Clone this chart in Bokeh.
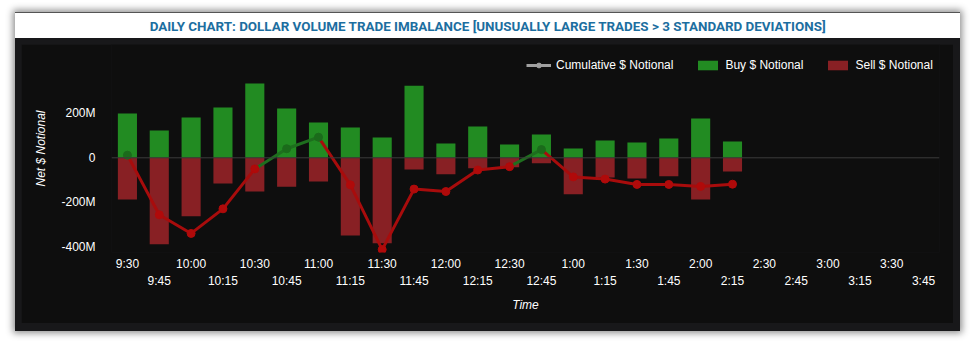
from bokeh.plotting import figure
from bokeh.models import (Range1d, LinearAxis, FixedTicker, Span, Legend, LegendItem,
                          ColumnDataSource)
from bokeh.layouts import column
from bokeh.embed import file_html
from bokeh.resources import INLINE
from bokeh.core.properties import value

# ---------------- data (values in millions of dollars) ----------------
times = ["9:30", "9:45", "10:00", "10:15", "10:30", "10:45", "11:00", "11:15", "11:30",
         "11:45", "12:00", "12:15", "12:30", "12:45", "1:00", "1:15", "1:30", "1:45",
         "2:00", "2:15", "2:30", "2:45", "3:00", "3:15", "3:30", "3:45"]
buy = [200, 123, 182, 227, 335, 222, 159, 137, 92, 325, 65, 141, 60, 105, 42, 78, 69,
       87, 177, 74]
sell = [-188, -390, -263, -116, -152, -130, -107, -350, -385, -53, -74, -47, -42, -24,
        -164, -89, -93, -83, -188, -62]
cumulative = [12, -257, -341, -230, -50, 41, 93, -122, -414, -141, -152, -55, -40, 37,
              -86, -96, -120, -120, -129, -119]
y_ticks = [-400, -200, 0, 200]
y_tick_labels = ["-400M", "-200M", "0", "200M"]
title_text = "DAILY CHART: DOLLAR VOLUME TRADE IMBALANCE [UNUSUALLY LARGE TRADES > 3 STANDARD DEVIATIONS]"

BUY_C = "#228B22"
SELL_C = "#882024"
LINE_RED = "#A80C0C"
LINE_GREEN = "#1E6E1E"
DOT_RED = "#B00A0A"
DOT_GREEN = "#1B6B1B"
FONT = "Liberation Sans"

idx = list(range(len(buy)))

# ---------------- title strip ----------------
t = figure(width=945, height=25, x_range=Range1d(0, 1), y_range=Range1d(0, 1),
           toolbar_location=None, output_backend="svg", min_border=0,
           x_axis_type=None, y_axis_type=None)
t.grid.visible = False
t.outline_line_color = None
t.background_fill_color = "white"
t.border_fill_color = "white"
t.text(x=[0.5], y=[0.5], text=[title_text], text_align="center", text_baseline="middle",
       text_font=value("Roboto"), text_font_style="bold",
       text_font_size="13.4px", text_color="#1C6EA0")

# ---------------- main chart ----------------
p = figure(width=932, height=279, x_range=Range1d(-0.5, 25.5), y_range=Range1d(-427, 511),
           toolbar_location=None, output_backend="svg", x_axis_type=None, y_axis_type=None,
           min_border_left=90, min_border_right=14, min_border_top=0, min_border_bottom=71,
           margin=(6, 7, 8, 6))
p.grid.visible = False
p.outline_line_color = None
p.background_fill_color = "#0E0E0E"
p.border_fill_color = "#0E0E0E"

buy_r = p.vbar(x=idx, top=buy, bottom=0, width=0.6, fill_color=BUY_C, line_color=None)
sell_r = p.vbar(x=idx, top=0, bottom=sell, width=0.6, fill_color=SELL_C, line_color=None)

p.add_layout(Span(location=0, dimension="width", line_color="#3C3C3C", line_width=1))

seg_src = ColumnDataSource(dict(
    x0=idx[:-1], x1=idx[1:], y0=cumulative[:-1], y1=cumulative[1:],
    c=[LINE_GREEN if v >= 0 else LINE_RED for v in cumulative[1:]]))
p.segment(x0="x0", y0="y0", x1="x1", y1="y1", line_color="c", line_width=3,
          line_cap="round", source=seg_src)
dot_src = ColumnDataSource(dict(x=idx, y=cumulative,
                                c=[DOT_GREEN if v >= 0 else DOT_RED for v in cumulative]))
p.scatter(x="x", y="y", size=8, fill_color="c", line_color="c", source=dot_src)

# legend proxies
leg_line = p.line(x=[float("nan")], y=[float("nan")], line_color="#A0A0A0", line_width=3)
leg_dot = p.scatter(x=[float("nan")], y=[float("nan")], size=7, fill_color="#A0A0A0",
                    line_color="#A0A0A0")

# y axis
yax = LinearAxis(ticker=FixedTicker(ticks=y_ticks),
                 major_label_overrides=dict(zip(y_ticks, y_tick_labels)))
yax.axis_line_color = None
yax.major_tick_line_color = None
yax.minor_tick_line_color = None
yax.major_label_standoff = 10
yax.major_label_text_color = "white"
yax.major_label_text_font = FONT
yax.major_label_text_font_size = "12px"
yax.axis_label = "Net $ Notional"
yax.axis_label_text_color = "white"
yax.axis_label_text_font = FONT
yax.axis_label_text_font_style = "italic"
yax.axis_label_text_font_size = "12px"
yax.axis_label_standoff = 10
p.add_layout(yax, "left")

# x axes (two staggered rows)
even = list(range(0, len(times), 2))
odd = list(range(1, len(times), 2))
for ticks, standoff, lab in ((even, -2, None), (odd, -6, "Time")):
    ax = LinearAxis(ticker=FixedTicker(ticks=ticks),
                    major_label_overrides={i: times[i] for i in ticks})
    ax.axis_line_color = None
    ax.major_tick_line_color = None
    ax.minor_tick_line_color = None
    ax.major_label_standoff = standoff
    ax.major_label_text_color = "white"
    ax.major_label_text_font = FONT
    ax.major_label_text_font_size = "12px"
    if lab:
        ax.axis_label = lab
        ax.axis_label_text_color = "white"
        ax.axis_label_text_font = FONT
        ax.axis_label_text_font_style = "italic"
        ax.axis_label_text_font_size = "12px"
        ax.axis_label_standoff = 7
    p.add_layout(ax, "below")

legend = Legend(items=[LegendItem(label="Cumulative $ Notional", renderers=[leg_line, leg_dot]),
                       LegendItem(label="Buy $ Notional", renderers=[buy_r]),
                       LegendItem(label="Sell $ Notional", renderers=[sell_r])],
                location=(415, 180), orientation="horizontal",
                glyph_width=25, glyph_height=12, label_height=12, label_standoff=5,
                spacing=22, padding=0, margin=0,
                label_text_color="white", label_text_font=FONT, label_text_font_size="12px",
                background_fill_alpha=0, border_line_alpha=0)
p.add_layout(legend)

inner = column(p, styles={"background-color": "#18181A"})
layout = column(t, inner, margin=(12, 0, 0, 15),
                styles={"box-shadow": "0 0 7px 2px rgba(0,0,0,0.45)",
                        "border-top": "1px solid #555"})

open("out.html", "w").write(file_html(layout, INLINE))
